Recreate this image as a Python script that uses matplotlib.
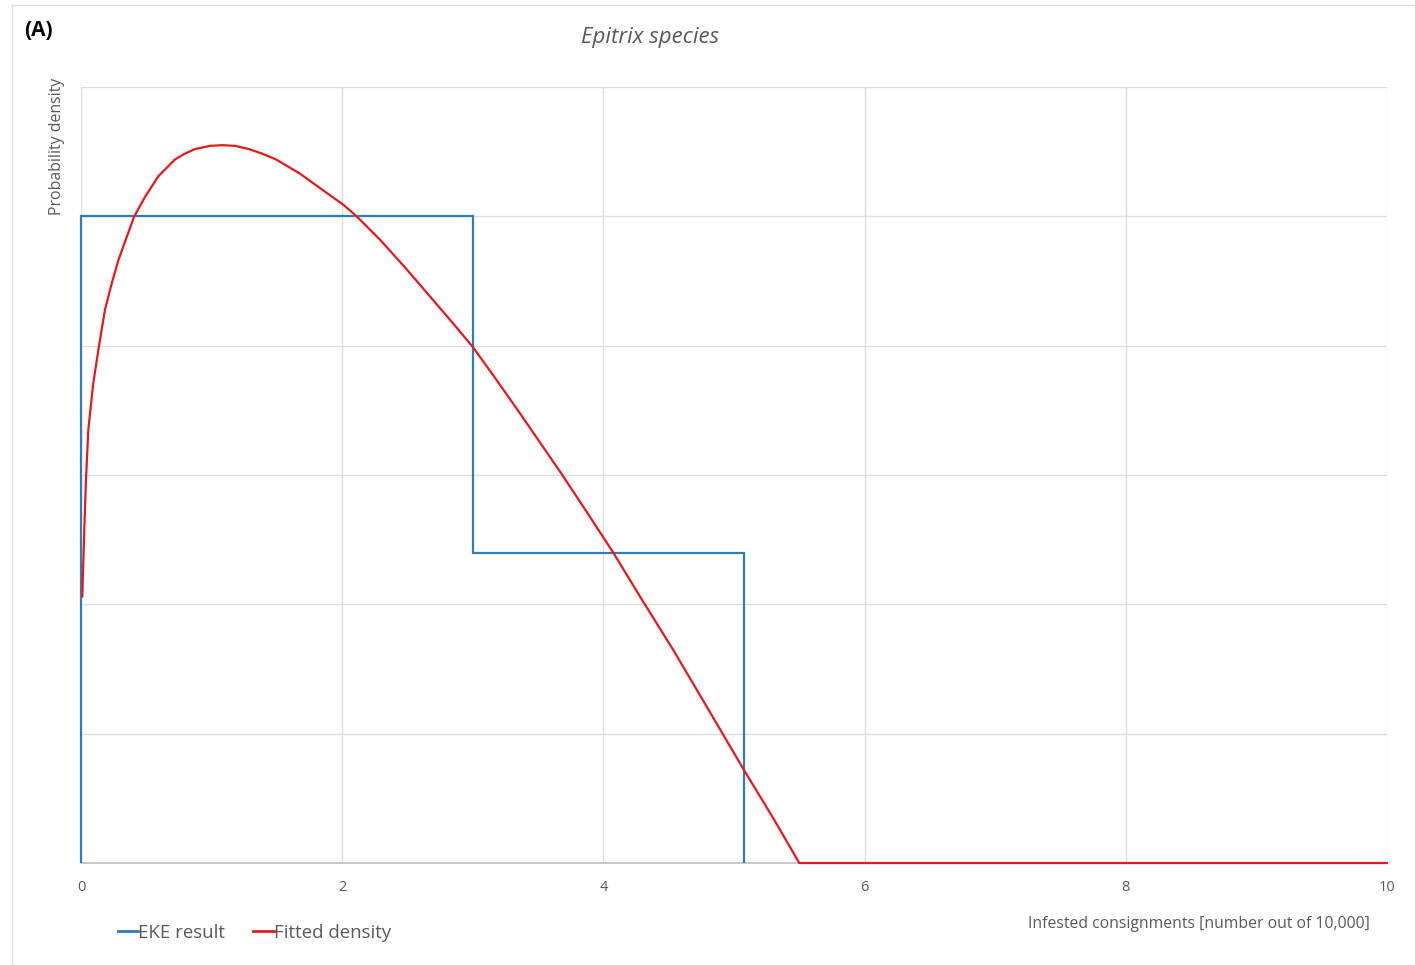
import matplotlib.pyplot as plt
from matplotlib.patches import Rectangle
from matplotlib.lines import Line2D

plt.rcParams.update({
    'font.family': ['Open Sans', 'DejaVu Sans'],
    'text.color': '#595959',
})

# EKE result: step histogram (bin edges and heights)
eke_edges = [0.0, 3.0, 5.08]
eke_heights = [5.0, 2.4]

# Fitted density
fit_x = [0.010, 0.025, 0.038, 0.056, 0.094, 0.138, 0.184, 0.235, 0.286, 0.350,
         0.408, 0.490, 0.592, 0.720, 0.796, 0.873, 0.988, 1.083, 1.180, 1.286,
         1.386, 1.493, 1.677, 1.855, 2.008, 2.111, 2.289, 2.494, 2.698, 2.851,
         3.0, 3.157, 3.361, 3.668, 3.846, 4.076, 4.305, 4.535, 4.791, 5.084,
         5.301, 5.50, 10.0]
fit_y = [2.06, 2.575, 2.96, 3.35, 3.71, 4.00, 4.28, 4.48, 4.66, 4.84,
         5.00, 5.15, 5.31, 5.44, 5.485, 5.52, 5.545, 5.55, 5.545, 5.52,
         5.485, 5.44, 5.33, 5.20, 5.09, 5.00, 4.82, 4.59, 4.35, 4.17,
         3.99, 3.77, 3.477, 3.026, 2.755, 2.399, 2.020, 1.647, 1.209, 0.706,
         0.346, 0.0, 0.0]

x_ticks = [0, 2, 4, 6, 8, 10]
y_grid = [1, 2, 3, 4, 5, 6]

BLUE = '#2E7BC0'
RED = '#E3191C'
GRID = '#dedede'
W, H = 1415, 965

fig = plt.figure(figsize=(W / 100, H / 100), dpi=100)
fig.patches.append(Rectangle((12 / W, 0), 1.0, 1 - 5 / H, transform=fig.transFigure,
                             fill=False, edgecolor=GRID, linewidth=1.0))

ax = fig.add_axes([81 / W, 1 - 863 / H, (1387 - 81) / W, (863 - 87) / H])
ax.set_xlim(0, 10)
ax.set_ylim(0, 6)

ax.set_xticks(x_ticks)
ax.set_xticklabels([str(t) for t in x_ticks])
ax.set_yticks(y_grid)
ax.tick_params(axis='y', left=False, labelleft=False)
ax.tick_params(axis='x', length=0, pad=12, labelsize=10.5, labelcolor='#595959')
ax.grid(True, color=GRID, linewidth=1.0)
ax.set_axisbelow(True)
for side in ['top', 'right', 'left']:
    ax.spines[side].set_visible(False)
ax.spines['bottom'].set_color('#bfbfbf')
ax.spines['bottom'].set_linewidth(1.2)

ax.stairs(eke_heights, eke_edges, baseline=0, color=BLUE, linewidth=1.6,
          label='EKE result', zorder=3, clip_on=False)
ax.plot(fit_x, fit_y, color=RED, linewidth=1.6, label='Fitted density',
        zorder=4, clip_on=False)

fig.text(24 / W, 1 - 30 / H, '(A)', fontsize=15, fontweight='bold', color='black',
         ha='left', va='center')
fig.text(650 / W, 1 - 38 / H, 'Epitrix species', fontsize=16, style='italic',
         ha='center', va='center')
fig.text(57 / W, 1 - 146 / H, 'Probability density', fontsize=11.4, rotation=90,
         ha='center', va='center')
fig.text(1370 / W, 1 - 924 / H, 'Infested consignments [number out of 10,000]',
         fontsize=11.3, ha='right', va='center')

labels = ['EKE result', 'Fitted density']
handles = [Line2D([], [], color=BLUE, linewidth=2), Line2D([], [], color=RED, linewidth=2)]
fig.legend(handles, labels, loc='center left', bbox_to_anchor=(118 / W, 1 - 933 / H),
           ncol=2, frameon=False, fontsize=13.4, handlelength=1.1, handletextpad=0.0,
           columnspacing=1.5, borderpad=0, borderaxespad=0, labelcolor='#595959')

fig.savefig('out.png', dpi=100)
